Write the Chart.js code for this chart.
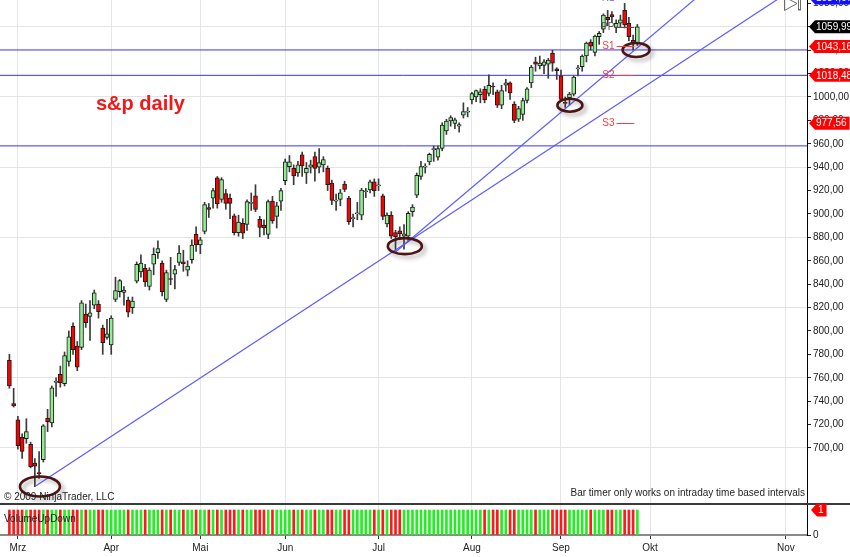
<!DOCTYPE html>
<html><head><meta charset="utf-8">
<script src="https://cdn.jsdelivr.net/npm/chart.js@4.4.1/dist/chart.umd.min.js"></script>
<style>html,body{margin:0;padding:0;background:#fff;}canvas{display:block;}</style>
</head><body>
<canvas id="c" width="850" height="557"></canvas>
<script>
// ---- data ----
const dates = ['02-26','02-27',
'03-02','03-03','03-04','03-05','03-06','03-09','03-10','03-11','03-12','03-13','03-16','03-17','03-18','03-19','03-20','03-23','03-24','03-25','03-26','03-27','03-30','03-31',
'04-01','04-02','04-03','04-06','04-07','04-08','04-09','04-13','04-14','04-15','04-16','04-17','04-20','04-21','04-22','04-23','04-24','04-27','04-28','04-29','04-30',
'05-01','05-04','05-05','05-06','05-07','05-08','05-11','05-12','05-13','05-14','05-15','05-18','05-19','05-20','05-21','05-22','05-26','05-27','05-28','05-29',
'06-01','06-02','06-03','06-04','06-05','06-08','06-09','06-10','06-11','06-12','06-15','06-16','06-17','06-18','06-19','06-22','06-23','06-24','06-25','06-26','06-29','06-30',
'07-01','07-02','07-06','07-07','07-08','07-09','07-10','07-13','07-14','07-15','07-16','07-17','07-20','07-21','07-22','07-23','07-24','07-27','07-28','07-29','07-30','07-31',
'08-03','08-04','08-05','08-06','08-07','08-10','08-11','08-12','08-13','08-14','08-17','08-18','08-19','08-20','08-21','08-24','08-25','08-26','08-27','08-28','08-31',
'09-01','09-02','09-03','09-04','09-08','09-09','09-10','09-11','09-14','09-15','09-16','09-17','09-18','09-21','09-22','09-23','09-24','09-25','09-28'];

const opens = [775,738,724,709,708,703,687,679,690,725.5,
721.5,756,763,755,774,804,787,786,814.5,812.5,
822,823,802.5,794.5,788,827,833.5,833,826.5,820,
842.5,850.5,853.5,838,857,867,858,827,844.5,848.5,
858.5,859,852,861,882.5,873.5,885,905.5,913.5,931,
912.5,917.5,913.5,898.5,884,892,891,909,915.5,895.5,
890.5,882.5,911,898,911,928.5,940.5,939,935,950.5,
935,940,949,940,942,939,926.5,911,912.5,925.5,
913.5,896,900,899,919,920.5,927.5,924,915.5,891.5,
899,884,885.5,881,881,902,916,932,940,944.5,
955,948.5,956,971,979.5,977.5,975,984.5,987,997.5,
1000,1002,1006.5,1003,1009,1004.5,993,1010,1012,994,
981,985,997,1012,1030,1026.5,1027,1028,1037.5,1024,
1018,995,999.5,1002.5,1024,1026,1035,1047,1038,1051.5,
1058,1068,1070.5,1059.5,1063,1074,1063,1048.5,1046];

const highs = [780,751,727,712,725,705,691,697,720,733,
753,760,770,782,800,807,791,826,823,826,
835,826,805,810,813,846,844,838,829,829,
859,865,857,854,871,877,860,852,863,856,
873,869,860,878,889,880,910,909,922,932,
931,921,917,900,899,896,912,918,925,898,
895,912,915,910,922,947,950,942,945,953,
944,946,953,956,949,941,929,917,921,928,
915,900,910,922,922,929,930,930,917,901,
902,886,889,891,902,908,935,945,943,952,
958,958,978,981,984,982,978,995,991,1004,
1006,1007,1009,1019,1012,1006,1010,1015,1013,996,
992,999,1008,1027,1034,1035,1032,1033,1040,1025,
1023,1000,1004,1018,1027,1036,1047,1049,1053,1056,
1071,1074,1073,1066,1070,1080,1068,1053,1062];

const lows = [751,735,699,691,704,683,667,674,688,714,
718,744,752,753,770,780,766,784,803,792,
819,811,780,793,780,825,829,822,812,815,
841,846,838,835,848,862,830,825,839.5,836,
856,851,847,858,868,866,883,897,905,905,
910,904,896,882,881,879,886,903,902,880.5,
882,879,892,888,903,925,936,925,932,932,
926,935,928,935,936,920,908,903,907,919,
891,889,895,895,914,918,915,920,895,889,
879,869,878,870,877,898,914,929.5,935,942,
945,946,954,968,975,973,970,982,983,994,
996,995,995,1001,1002,991,990,1005,998,978,
979,980,995,1008,1022,1024,1020,1016,1022,1015,
996,991,993,1001,1018,1022,1030,1040,1035,1045,
1055,1061,1064,1055,1060,1059,1048,1040,1044];

const closes = [753,736,702,697,714,684,684.5,678,719,722.5,
751.5,757,755.5,779,795,784,769,824,807,815.5,
832.5,816.5,790,797.5,811,834.5,843,835,816,825.5,
857,858,842,852,865.5,870.5,833.5,850,844,852.5,
866.5,857.5,855.5,873.5,873.5,878,908,904,920,908.5,
929.5,909,909,884,893,883.5,910.5,909.5,904,888.5,
888,910.5,894,907,920,944.5,944.5,932.5,942,941,
939,942,939,944,946.5,925,911.5,911,918,921,
893.5,896.5,901,920.5,919.5,927.5,920,924.5,898,899,
881,880.5,883,883,900.5,906,933,940.5,940.5,951,
955.5,956,976,979.5,982.5,980.5,976.5,987.5,987.5,1003,
1005.5,1004.5,997.5,1010,1008.5,993,1005.5,1012,1003.5,980,
990,997,1007,1025.5,1028,1029,1030,1031.5,1029,1022.5,
998,994.5,1002.5,1017,1024.5,1035,1046,1043.5,1052,1054.5,
1070,1066,1068.5,1063,1066,1061.5,1051.5,1046,1060];

const volume = [1,1,1,1,1,1,1,1,1,1, 1,1,1,1,1,1,1,1,1,1, 1,1,1,1,1,1,1,1,1,1,
1,1,1,1,1,1,1,1,1,1, 1,1,1,1,1,1,1,1,1,1, 1,1,1,1,1,1,1,1,1,1,
1,1,1,1,1,1,1,1,1,1, 1,1,1,1,1,1,1,1,1,1, 1,1,1,1,1,1,1,1,1,1,
1,1,1,1,1,1,1,1,1,1, 1,1,1,1,1,1,1,1,1,1, 1,1,1,1,1,1,1,1,1,1,
1,1,1,1,1,1,1,1,1,1, 1,1,1,1,1,1,1,1,1,1, 1,1,1,1,1,1,1,1,1];

const monthLabels = ['Mrz','Apr','Mai','Jun','Jul','Aug','Sep','Okt','Nov'];
const monthStarts = ['03-02','04-01','05-01','06-01','07-01','08-03','09-01','10-01','11-02'];
const priceTicks = [700,720,740,760,780,800,820,840,860,880,900,920,940,960,980,1000,1020,1040,1060,1080];
const priceGridLevels = [700,760,820,880,940,1000,1060];
const volumeTicks = [0];
const horizontalLevels = [1040.2, 1018.5, 958.2];
const pivotNames = ['R1','PP','S1','S2','S3'];
const pivotValues = [1084.67, 1059.99, 1043.16, 1018.48, 977.56];
const trendA = [['03-06', 667], ['07-10', 874]];
const trendB = [['07-08', 867.5], ['09-02', 990]];

// ---- view / style ----
const FONT = "'Liberation Sans', Arial, sans-serif";
Chart.defaults.font.family = FONT;
Chart.defaults.font.size = 10;
Chart.defaults.color = '#1a1a1a';
const X_MIN = -2.215, X_MAX = 187.98;
const P_MIN = 652.1, P_MAX = 1082.9;
const V_MAX = 1.24;
const ellipses = [[7.2,667,20,10],[93.2,872.5,17,8],[132.1,993,12.5,6.5],[147.7,1040.2,13.5,7]];
const pivotColors = ['#6f6fd8','#555555','#ff3b3b','#ff3b3b','#ff3b3b'];
const markerColors = ['#1010ff','#000000','#ff0000','#ff0000','#ff0000'];
const pivotLabelAt = 142.6, pivotFrom = 143.1, pivotTo = 147.3;

function dayOfYear(md){ const [m,d]=md.split('-').map(Number); return (Date.UTC(2009,m-1,d)-Date.UTC(2009,0,1))/86400000; }
function positionOf(md){ const i=dates.indexOf(md); if(i>=0) return i; const last=dates.length-1; return last + dayOfYear(md) - dayOfYear(dates[last]); }
const monthTicks = monthStarts.map(positionOf);
const isUp = closes.map((c,i)=> c >= opens[i]);

function trendData(t){
  const x1 = positionOf(t[0][0]), y1 = t[0][1], x2 = positionOf(t[1][0]), y2 = t[1][1];
  const k = (y2-y1)/(x2-x1);
  return [{x:x1, y:y1}, {x:X_MAX, y:y1 + k*(X_MAX-x1)}];
}

const datasets = [
  { type:'bar', yAxisID:'yv', data: volume.map((v,i)=>({x:i,y:v})),
    backgroundColor: isUp.map(u=>u?'#22ee22':'#ff1a1a'), barThickness:2, grouped:false, order:10 },
  ...horizontalLevels.map(l=>({ type:'line', yAxisID:'y', data:[{x:X_MIN,y:l},{x:X_MAX,y:l}],
    borderColor:'#3333ff', borderWidth:1, pointRadius:0, fill:false, order:9 })),
  { type:'bar', yAxisID:'y', data: lows.map((l,i)=>({x:i,y:[l,highs[i]]})),
    backgroundColor:'#3a3a3a', barThickness:1, grouped:false, order:8 },
  { type:'bar', yAxisID:'y', data: opens.map((o,i)=>({x:i,y:[o,closes[i]]})),
    backgroundColor: isUp.map(u=>u?'#90ee90':'#ff0000'), borderColor:'#1a1a1a', borderWidth:1,
    borderSkipped:false, barThickness:4, minBarLength:1, grouped:false, order:7 },
  { type:'line', yAxisID:'y', data: trendData(trendA), borderColor:'#5c5cff', borderWidth:1.2, pointRadius:0, fill:false, order:1 },
  { type:'line', yAxisID:'y', data: trendData(trendB), borderColor:'#5c5cff', borderWidth:1.2, pointRadius:0, fill:false, order:1 }
];

function marker(ctx, x0, y, text, bg){
  ctx.font = '10px ' + FONT;
  const w = ctx.measureText(text).width, h = 13, tip = 6;
  ctx.fillStyle = bg;
  ctx.beginPath(); ctx.moveTo(x0, y); ctx.lineTo(x0+tip, y-h/2); ctx.lineTo(x0+tip+w+4, y-h/2);
  ctx.lineTo(x0+tip+w+4, y+h/2); ctx.lineTo(x0+tip, y+h/2); ctx.closePath(); ctx.fill();
  ctx.fillStyle = '#fff'; ctx.textAlign='left'; ctx.textBaseline='middle';
  ctx.fillText(text, x0+tip+1, y+0.5);
}

const overlay = {
  id:'overlay',
  afterDraw(chart){
    const ctx = chart.ctx, ca = chart.chartArea, xs = chart.scales.x, ys = chart.scales.y, yv = chart.scales.yv;
    ctx.save();
    ctx.beginPath(); ctx.rect(ca.left, ys.top, ca.right-ca.left, ys.bottom-ys.top); ctx.clip();
    ellipses.forEach(([i,v,rx,ry])=>{
      const cx = xs.getPixelForValue(i), cy = ys.getPixelForValue(v);
      ctx.save();
      ctx.shadowColor='rgba(70,70,70,0.45)'; ctx.shadowBlur=4; ctx.shadowOffsetX=3; ctx.shadowOffsetY=3;
      ctx.strokeStyle='#4d1414'; ctx.lineWidth=2.6;
      ctx.beginPath(); ctx.ellipse(cx,cy,rx,ry,0,0,Math.PI*2); ctx.stroke();
      ctx.restore();
    });
    ctx.font = '10px ' + FONT; ctx.textBaseline='middle';
    pivotNames.forEach((n,k)=>{
      const y = ys.getPixelForValue(pivotValues[k]);
      ctx.fillStyle = pivotColors[k]; ctx.textAlign='right';
      ctx.fillText(n, xs.getPixelForValue(pivotLabelAt), y);
      ctx.strokeStyle = pivotColors[k]; ctx.lineWidth=1;
      ctx.beginPath(); ctx.moveTo(xs.getPixelForValue(pivotFrom), Math.round(y)+0.5);
      ctx.lineTo(xs.getPixelForValue(pivotTo), Math.round(y)+0.5); ctx.stroke();
    });
    ctx.textAlign='left'; ctx.textBaseline='alphabetic';
    ctx.font = 'bold 20px ' + FONT; ctx.fillStyle='#f01818';
    ctx.fillText('s&p daily', 96, 110);
    ctx.font = '10px ' + FONT; ctx.fillStyle='#222';
    ctx.fillText('\u00a9 2009 NinjaTrader, LLC', 4, 500);
    ctx.textAlign='right';
    ctx.fillText('Bar timer only works on intraday time based intervals', ca.right-2, 496);
    // scroll-to-end icon
    ctx.strokeStyle='#6a6a6a'; ctx.lineWidth=1;
    ctx.beginPath(); ctx.moveTo(784.5,-3); ctx.lineTo(784.5,10.5); ctx.lineTo(797,3.5); ctx.closePath(); ctx.stroke();
    ctx.strokeRect(798.5,-3,2,13);
    ctx.restore();

    ctx.save();
    ctx.font = '10px ' + FONT; ctx.fillStyle='#222'; ctx.textAlign='left'; ctx.textBaseline='middle';
    ctx.fillText('VolumeUpDown', 4, yv.top + 15);
    ctx.strokeStyle='#3a3a3a'; ctx.lineWidth=2;
    ctx.beginPath(); ctx.moveTo(0, ys.bottom); ctx.lineTo(chart.width, ys.bottom); ctx.stroke();
    pivotValues.forEach((v,k)=>{
      marker(ctx, ca.right+2, ys.getPixelForValue(v), v.toFixed(2).replace('.', ','), markerColors[k]);
    });
    marker(ctx, ca.right+4, yv.getPixelForValue(volume[volume.length-1]), String(volume[volume.length-1]), '#ff0000');
    ctx.restore();
  }
};

function noPad(s){ s.paddingTop = 0; s.paddingBottom = 0; s.paddingLeft = 0; s.paddingRight = 0; }

new Chart(document.getElementById('c'), {
  type:'bar',
  data:{ datasets },
  options:{
    responsive:false, maintainAspectRatio:false, animation:false, devicePixelRatio:1, events:[],
    layout:{ padding:0, autoPadding:false },
    plugins:{ legend:{display:false}, tooltip:{enabled:false} },
    scales:{
      x:{ type:'linear', min:X_MIN, max:X_MAX, offset:false,
        afterBuildTicks: s => { s.ticks = monthTicks.map(v=>({value:v})); },
        afterFit: s => { s.height = 22; noPad(s); },
        ticks:{ autoSkip:false, maxRotation:0, padding:3, color:'#222', font:{size:10},
          callback:(v,i)=> monthLabels[i] },
        grid:{ color:'#e6e6e6', tickColor:'#333', tickLength:4, offset:false },
        border:{ color:'#8a8a8a', width:2 } },
      y:{ type:'linear', position:'right', stack:'panels', stackWeight:504, min:P_MIN, max:P_MAX,
        afterBuildTicks: s => { s.ticks = priceTicks.map(v=>({value:v})); },
        afterFit: s => { s.width = 43; noPad(s); },
        ticks:{ autoSkip:false, padding:2, color:'#1a1a1a', font:{size:10},
          callback: v => Number(v).toFixed(2).replace('.', ',') },
        grid:{ color: c => (c.tick && priceGridLevels.includes(c.tick.value)) ? '#e4e4e4' : 'rgba(0,0,0,0)',
          tickColor:'#222', tickLength:4 },
        border:{ color:'#000', width:1 } },
      yv:{ type:'linear', position:'right', stack:'panels', stackWeight:31, min:0, max:V_MAX,
        afterBuildTicks: s => { s.ticks = volumeTicks.map(v=>({value:v})); },
        afterFit: s => { s.width = 43; noPad(s); },
        ticks:{ autoSkip:false, padding:2, color:'#1a1a1a', font:{size:10}, callback: v => String(v) },
        grid:{ color:'rgba(0,0,0,0)', tickColor:'#222', tickLength:4 },
        border:{ color:'#000', width:1 } }
    }
  },
  plugins:[overlay]
});
</script>
</body></html>
